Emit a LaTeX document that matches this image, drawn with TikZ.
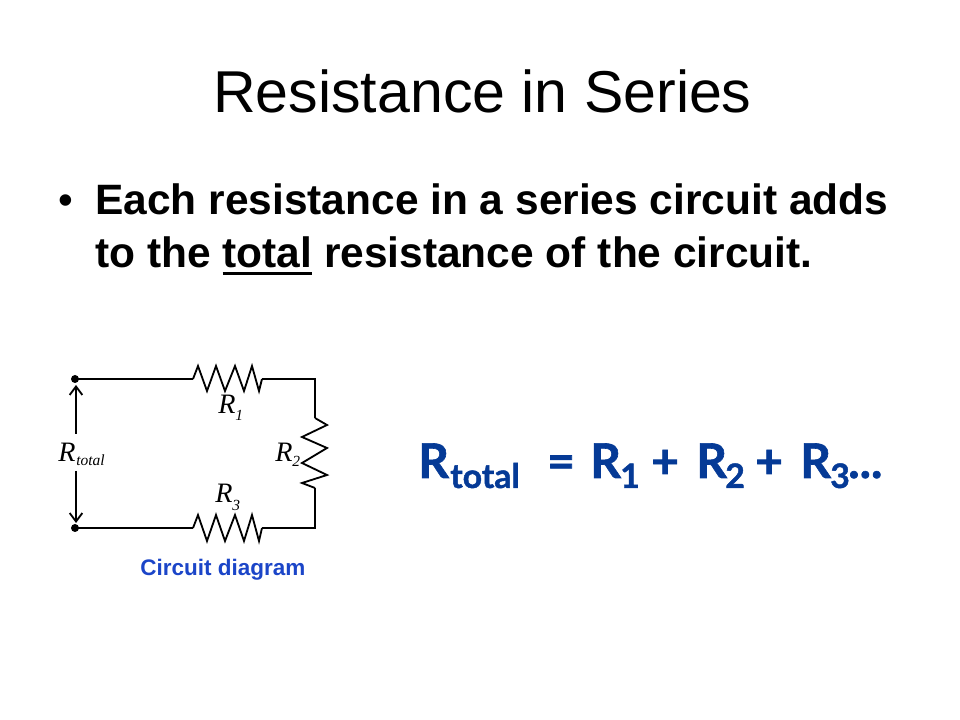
\documentclass[tikz,border=0pt]{standalone}
\usepackage{fontspec}
\setmainfont{Liberation Sans}
\newfontfamily\serifface{Liberation Serif}
\newfontfamily\eqface[BoldFeatures={FakeBold=1.3}]{Lato}
\usepackage{tikz}
\usetikzlibrary{arrows.meta}
\definecolor{eqblue}{HTML}{053A96}
\definecolor{capblue}{HTML}{1B45C8}
\newcommand{\ulword}[1]{\setbox0\hbox{#1}\rlap{\rule[-5pt]{\wd0}{2.4pt}}\box0\relax}
\tikzset{
	txt/.style={inner sep=0pt, anchor=base west},
	eq/.style={txt, text=eqblue, font=\eqface\bfseries\fontsize{34}{34}\selectfont},
	sub/.style={txt, text=eqblue, font=\eqface\bfseries\fontsize{24}{24}\selectfont},
	lab/.style={txt, font=\serifface\itshape\fontsize{20}{20}\selectfont},
	labsub/.style={txt, font=\serifface\itshape\fontsize{11}{11}\selectfont},
	wire/.style={black, line width=1.3pt},
	barb/.style={-{Straight Barb[length=6pt,width=9pt]}},
	body/.style={txt, font=\bfseries\fontsize{30.2}{30.2}\selectfont}
}
\begin{document}
\begin{tikzpicture}[x=0.025cm,y=-0.025cm]
	\useasboundingbox (0,0) rectangle (960,720);

	\node[txt, font=\fontsize{42}{42}\selectfont] at (213,113) (title) {Resistance in Series};
	\node[txt, font=\fontsize{30}{30}\selectfont] at (58,215) (bullet) {•};
	\node[body] at (95,215) (line1) {Each resistance in a series circuit adds};
	\node[body] at (95,268) (line2) {to the \ulword{total} resistance of the circuit.};

	\coordinate (topl) at (75,379);
	\coordinate (topr) at (315,379);
	\coordinate (botl) at (75,528);
	\coordinate (botr) at (315,528);
	\coordinate (r1a) at (193,379);
	\coordinate (r1b) at (262,379);
	\coordinate (r2a) at (315,418);
	\coordinate (r2b) at (315,488);
	\coordinate (r3a) at (193,528);
	\coordinate (r3b) at (262,528);

	\draw[wire] (topl) -- (r1a);
	\draw[wire] (r1a) -- (198,366) -- (207,391) -- (216,366) -- (225,391) -- (235,366) -- (244,391) -- (252,366) -- (259,391) -- (r1b);
	\draw[wire] (r1b) -- (topr) -- (r2a);
	\draw[wire] (r2a) -- (327,425) -- (302,437) -- (327,448) -- (302,463) -- (327,475) -- (302,483) -- (r2b);
	\draw[wire] (r2b) -- (botr) -- (r3b);
	\draw[wire] (r3a) -- (198,515) -- (207,541) -- (216,515) -- (225,541) -- (235,515) -- (244,541) -- (252,515) -- (259,541) -- (r3b);
	\draw[wire] (botl) -- (r3a);
	\fill (topl) circle (4);
	\fill (botl) circle (4);

	\node[lab] at (58,462) (rt) {R};
	\node[labsub] at (76,466) (rtsub) {total};
	\node[lab] at (218,414) (r1) {R};
	\node[labsub] at (235,421) (r1sub) {1};
	\node[lab] at (275,462) (r2) {R};
	\node[labsub] at (292,467) (r2sub) {2};
	\node[lab] at (215,503) (r3) {R};
	\node[labsub] at (232,511) (r3sub) {3};

	\coordinate (uptail) at (76,434);
	\coordinate (uptip) at (76,385);
	\coordinate (dntail) at (76,471);
	\coordinate (dntip) at (76,523);
	\draw[barb, wire] (uptail) -- (uptip);
	\draw[barb, wire] (dntail) -- (dntip);

	\node[txt, text=capblue, font=\bfseries\fontsize{16}{16}\selectfont] at (140,575) (cap) {Circuit diagram};

	\node[eq] at (418,478) (rtotal) {R};
	\node[sub] at (450,488) (rtotalsub) {total};
	\node[eq] at (547,478) (equals) {=};
	\node[eq] at (590,478) (ra) {R};
	\node[sub] at (620,488) (rasub) {1};
	\node[eq] at (651,478) (plusa) {+};
	\node[eq] at (696,478) (rb) {R};
	\node[sub] at (725,488) (rbsub) {2};
	\node[eq] at (755,478) (plusb) {+};
	\node[eq] at (800,478) (rc) {R};
	\node[sub] at (830,488) (rcsub) {3};
	\node[eq] at (848,478) (dots) {...};
\end{tikzpicture}
\end{document}
